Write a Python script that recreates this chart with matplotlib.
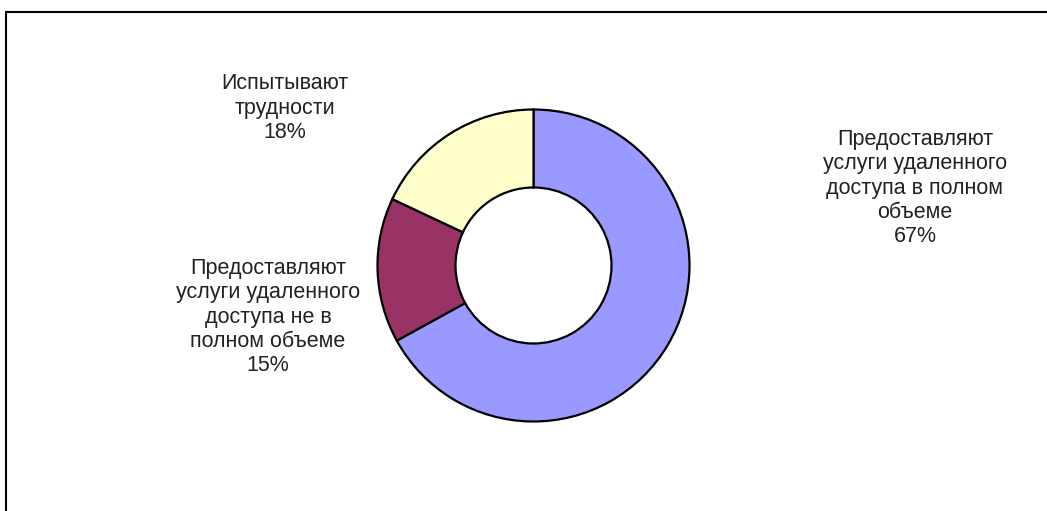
import matplotlib.pyplot as plt
from matplotlib.lines import Line2D

# Data
labels = [
    "Предоставляют\nуслуги удаленного\nдоступа в полном\nобъеме",
    "Предоставляют\nуслуги удаленного\nдоступа не в\nполном объеме",
    "Испытывают\nтрудности",
]
shares = [67, 15, 18]
colors = ["#9999FF", "#993366", "#FFFFCC"]

# label centres in pixels (x, y from top)
label_pos = [(915, 188), (268, 317), (285, 108)]

W, H = 1047, 511
fig = plt.figure(figsize=(W / 100, H / 100), dpi=100)
ax = fig.add_axes([0, 0, 1, 1])
ax.set_xlim(0, W)
ax.set_ylim(0, H)
ax.set_aspect("equal")
ax.axis("off")

# donut
cx, cy, r = 533.5, H - 265.5, 156
ax.pie(shares, colors=colors, startangle=90, counterclock=False,
       center=(cx, cy), radius=r,
       wedgeprops=dict(width=r * 0.5, edgecolor="black", linewidth=1.6))
ax.set_xlim(0, W)
ax.set_ylim(0, H)

for lab, val, (x, y) in zip(labels, shares, label_pos):
    ax.text(x, H - y, f"{lab}\n{val}%", ha="center", va="center",
            fontsize=15.5, family="Liberation Sans", color="#222222",
            linespacing=1.2)

# chart frame (only top and left edges visible)
fig.add_artist(Line2D([6 / W, 6 / W], [0, 1 - 12.5 / H], color="black",
                      linewidth=1.5, transform=fig.transFigure))
fig.add_artist(Line2D([6 / W, 1], [1 - 12.5 / H, 1 - 12.5 / H], color="black",
                      linewidth=1.5, transform=fig.transFigure))

fig.savefig("out.png", dpi=100)
